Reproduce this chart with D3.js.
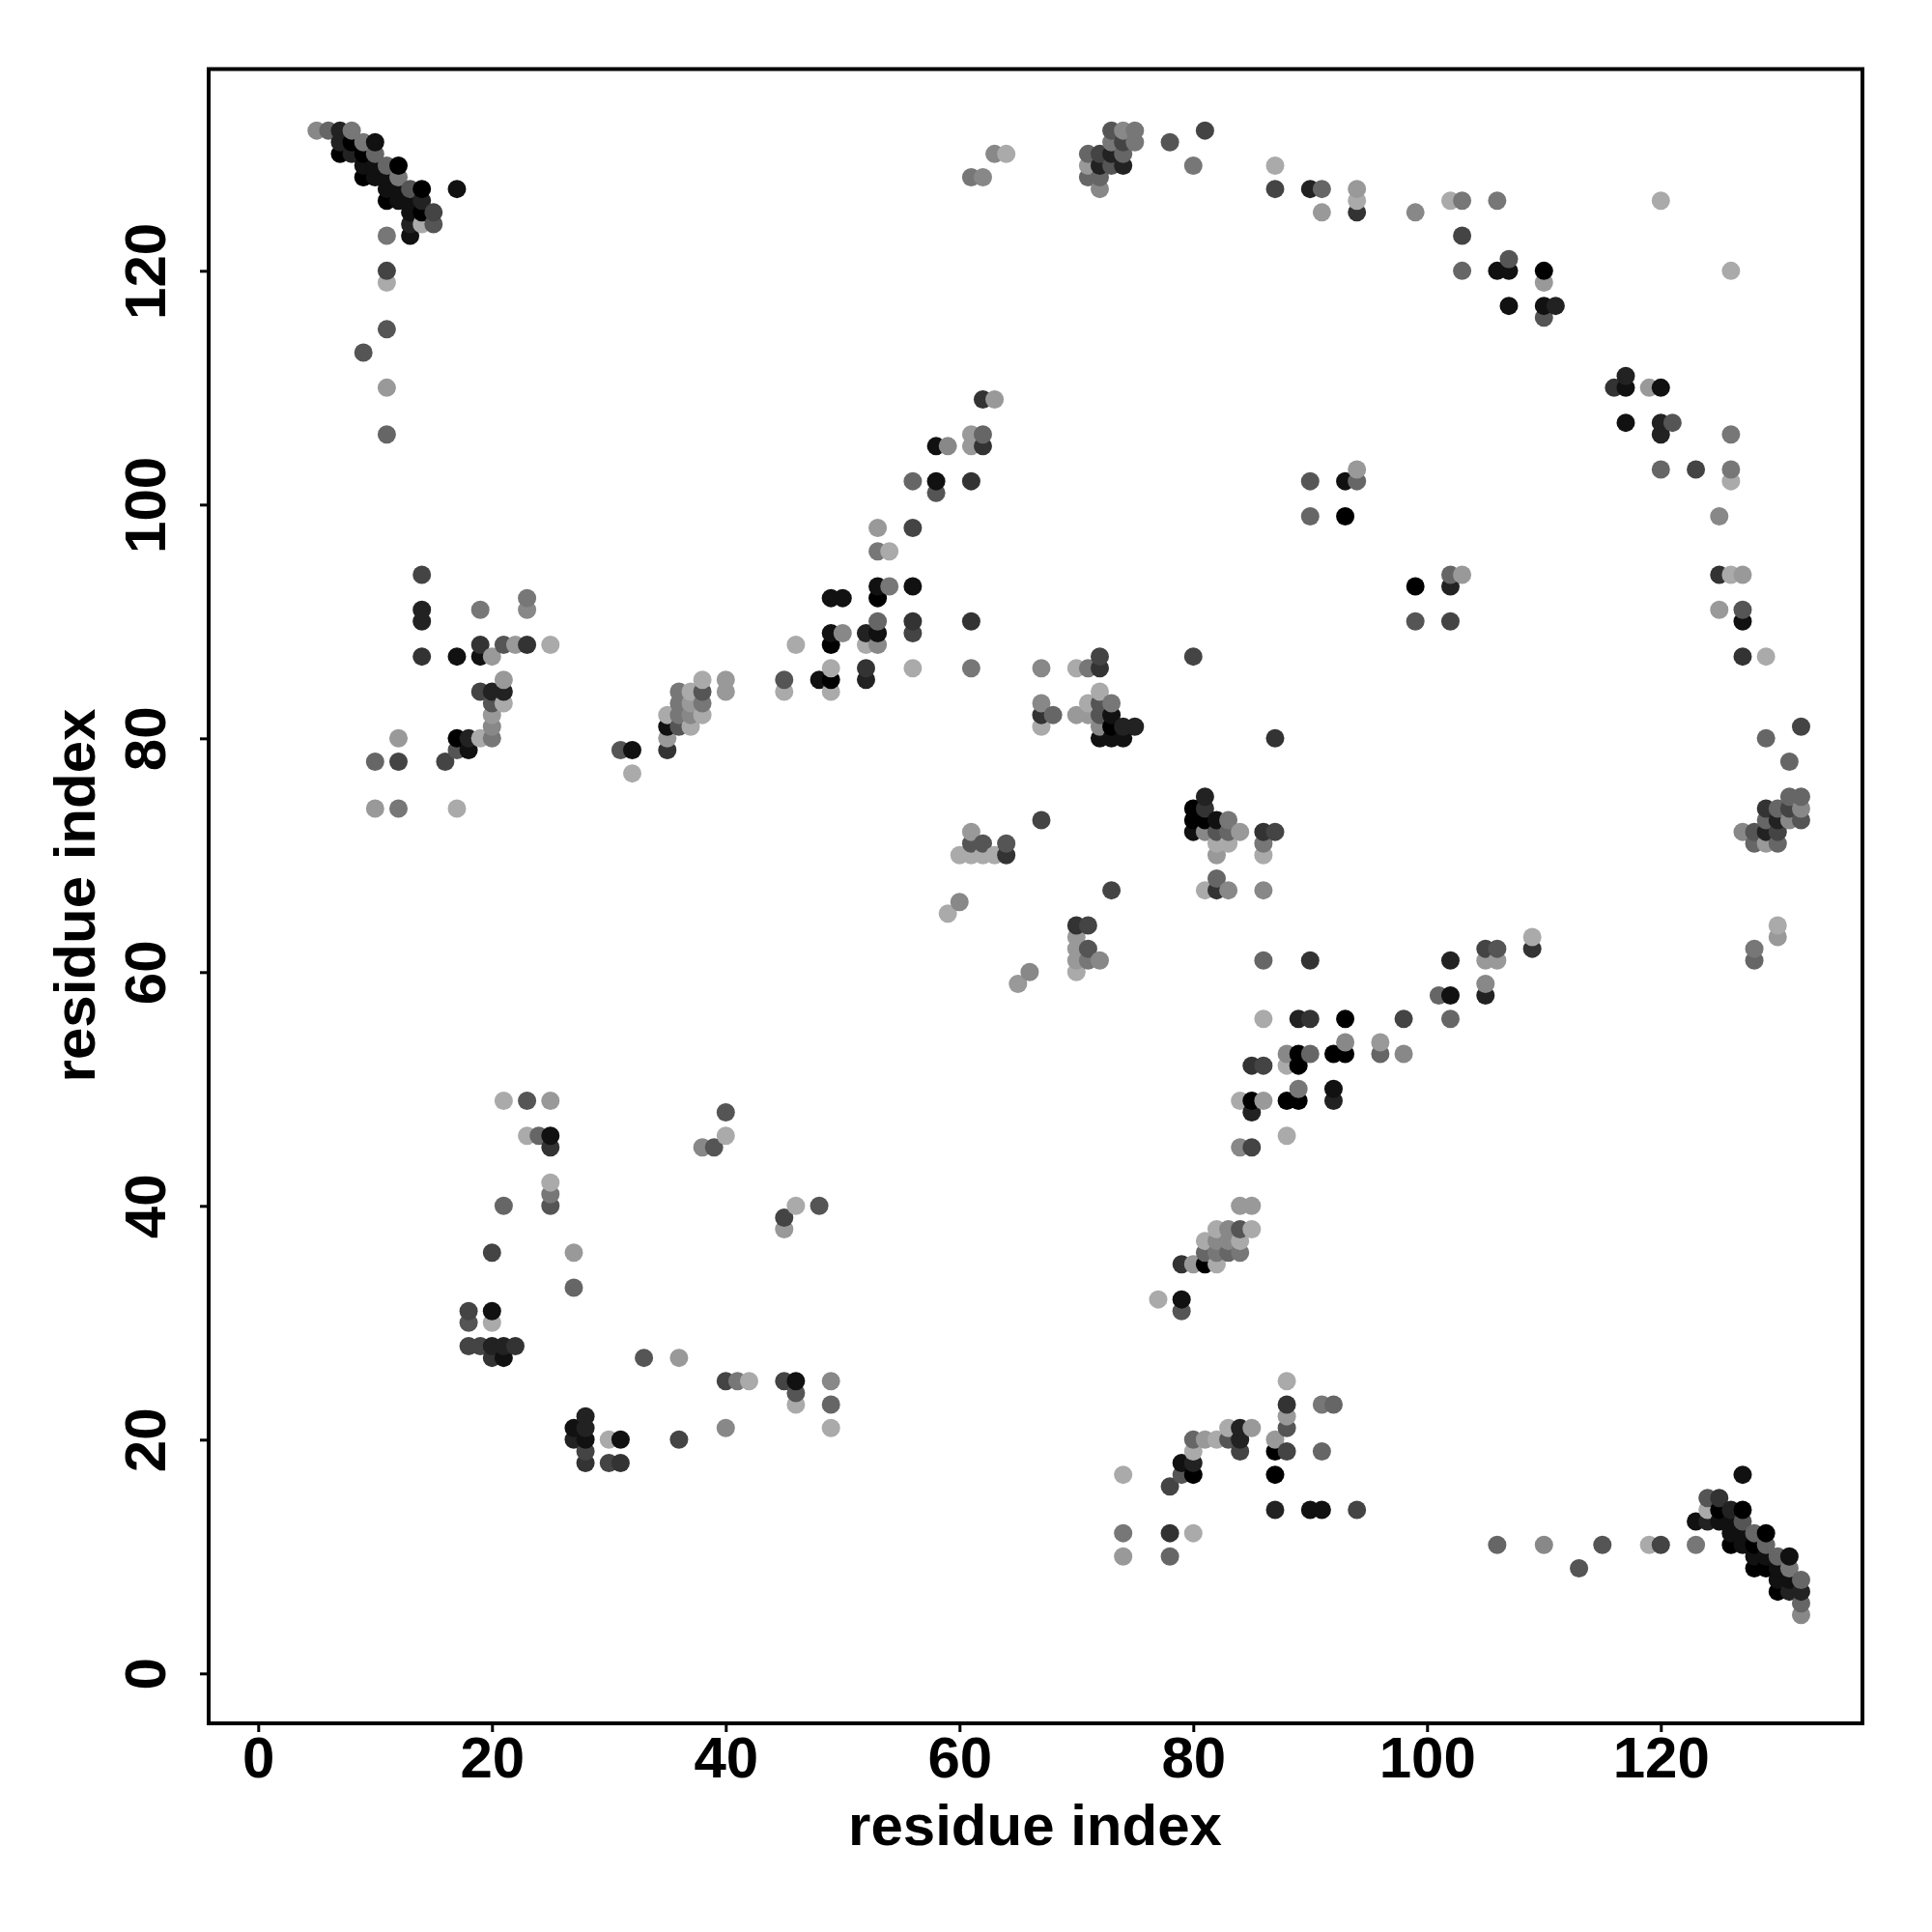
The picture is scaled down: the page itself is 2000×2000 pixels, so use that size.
<!DOCTYPE html>
<html>
<head>
<meta charset="utf-8">
<script src="https://cdn.jsdelivr.net/npm/d3@7"></script>
<style>
html,body{margin:0;padding:0;background:#fff}
svg{display:block}
text{font-family:"Liberation Sans",Arial,sans-serif;font-weight:bold;fill:#000}
</style>
</head>
<body>
<svg id="chart" width="2000" height="2000"></svg>
<script>
// Each contact: [residue x, residue y, score 0 (weak, light) .. 10 (strong, black)]
const tickValues = [0, 20, 40, 60, 80, 100, 120];
const axisLabel = "residue index";

const helixTopLeft = [
[5,132,2],[6,132,4],[7,132,8],[8,132,3],[7,131,8],[8,131,10],[9,131,3],[10,131,9],
[7,130,10],[8,130,8],[9,130,10],[10,130,4],[9,129,9],[10,129,9],[11,129,4],[12,129,10],
[9,128,10],[10,128,9],[11,128,9],[12,128,3],[11,127,9],[12,127,9],[13,127,5],[14,127,10],[17,127,9],
[11,126,10],[12,126,9],[13,126,9],[14,126,8],[13,125,9],[14,125,10],[15,125,6],
[13,124,8],[14,124,0],[15,124,5],[11,123,3],[13,123,9],[11,120,6],[11,119,0],
[11,115,5],[9,113,5],[11,110,1],[11,106,4]
];
const helixBottomRight = [
[127,17,9],[124,15,5],[125,15,7],[124,14,0],[125,14,10],[126,14,8],[127,14,10],
[123,13,9],[124,13,8],[125,13,9],[126,13,9],[127,13,5],[126,12,9],[127,12,9],[128,12,4],[129,12,10],
[126,11,10],[127,11,9],[128,11,10],[129,11,4],[128,10,9],[129,10,9],[130,10,4],[131,10,9],
[128,9,10],[129,9,10],[130,9,9],[131,9,3],[130,8,9],[131,8,9],[132,8,4],
[130,7,10],[131,7,8],[132,7,8],[132,6,4],[132,5,2],
[106,11,4],[110,11,2],[115,11,5],[119,11,0],[120,11,6],[123,11,3],[113,9,5]
];
const topArc = [
[61,128,3],[62,128,2],[63,130,2],[64,130,0],
[73,132,5],[74,132,2],[75,132,3],[73,131,3],[74,131,6],[75,131,3],[78,131,5],[81,132,6],[80,129,3],
[71,130,4],[72,130,6],[73,130,8],[74,130,4],[71,129,1],[72,129,8],[73,129,5],[74,129,8],
[71,128,4],[72,128,4],[72,127,2],
[87,129,0],[87,127,6],[90,127,8],[91,127,4],[91,125,1],[94,127,1],[94,126,0],[94,125,7],
[99,125,2],[102,126,0],[103,126,3],[103,123,6],[103,120,4],[106,126,3],
[106,120,9],[107,120,9],[107,121,5],[107,117,9],[110,120,10],[110,119,1],[110,117,9],[110,116,5],[111,117,8],
[120,126,0],[126,120,0]
];
const rightArc = [
[116,110,7],[117,111,8],[117,110,9],[117,107,9],[119,110,1],[120,110,9],[120,107,8],[120,106,8],[121,107,5],
[120,103,4],[123,103,6],[126,106,3],[126,103,3],[126,102,0],[125,99,2],[125,94,7],[126,94,0],[127,94,1],
[125,91,1],[127,91,5],[127,90,9],[127,87,7],[129,87,0],
[132,81,6],[129,80,4],[131,78,4],
[131,75,4],[132,75,4],[132,74,2],[131,74,6],[130,74,4],[129,74,7],
[129,73,4],[130,73,8],[131,73,2],[132,73,5],[127,72,2],[128,72,5],[129,72,8],[130,72,6],
[128,71,4],[129,71,1],[130,71,4],[130,64,0],[130,63,1],[128,62,3],[128,61,4]
];
const midLeft = [
[14,94,6],[14,91,8],[14,90,8],[14,87,7],[17,87,9],[19,91,3],[19,88,7],[19,87,9],[20,87,1],
[21,88,5],[22,88,1],[23,92,3],[23,91,2],[23,88,7],[25,88,0],
[21,85,1],[19,84,6],[20,84,8],[21,84,8],[20,83,5],[21,83,0],[20,82,1],[20,81,2],
[17,80,10],[18,80,8],[19,80,0],[20,80,3],[17,79,5],[18,79,9],[16,78,6],
[10,78,4],[12,80,1],[12,78,6],[10,74,1],[12,74,3],[17,74,0]
];
const strandRising = [
[31,79,5],[32,79,9],[32,77,0],[35,79,7],[35,80,1],[35,81,9],[35,82,0],
[36,81,5],[36,82,3],[36,83,3],[36,84,3],[37,81,0],[37,82,2],[37,83,1],[37,84,0],
[38,82,0],[38,83,3],[38,84,5],[38,85,0],[40,84,1],[40,85,1],[45,84,0],[45,85,5],
[48,85,9],[49,85,10],[49,84,0],[49,86,0],[49,88,10],[52,85,8],[52,86,7],[56,86,0],
[46,88,0],[52,88,0],[53,88,2],
[49,92,9],[50,92,9],[49,89,9],[50,89,2],[52,89,8],[53,89,9],[53,90,4],[53,93,9],[53,92,10],[54,93,3],
[56,93,9],[56,90,7],[56,89,6],[53,96,3],[54,96,0],[53,98,1],[56,98,6],[56,102,4],
[58,102,9],[58,101,5],[58,105,9],[59,105,2],[61,106,1],[62,106,4],[62,105,7],[61,105,1],[61,102,7],
[62,109,7],[63,109,1],[61,90,7],[61,86,3]
];
const centreUpper = [
[72,87,6],[72,86,7],[71,86,3],[70,86,0],[67,86,2],[67,83,2],[67,82,7],[68,82,4],[67,81,0],
[72,84,0],[71,83,0],[72,83,5],[73,83,3],[70,82,1],[71,82,1],[72,82,5],[73,82,9],
[72,81,2],[73,81,10],[74,81,8],[75,81,8],[72,80,9],[73,80,9],[74,80,9],
[80,87,6],[87,80,7],
[81,75,8],[80,74,10],[81,74,7],[80,73,10],[81,73,10],[82,73,9],[83,73,3],
[80,72,9],[81,72,2],[82,72,5],[83,72,4],[84,72,1],[82,71,0],[83,71,0],[82,70,1],
[86,72,7],[87,72,6],[86,71,3],[86,70,0],[82,68,4],[81,67,0],[82,67,7],[83,67,2],[86,67,2]
];
const centreScatter = [
[61,72,1],[61,71,5],[62,71,5],[60,70,0],[61,70,0],[62,70,0],[63,70,0],[64,71,5],[64,70,7],
[67,73,6],[59,65,0],[60,66,2],[65,59,1],[66,60,2],[73,67,6],
[70,64,7],[71,64,6],[70,63,1],[70,62,1],[71,62,5],[70,61,1],[71,61,3],[72,61,2],[70,60,0],
[86,61,4],[90,61,7],[86,56,0]
];
const strandLower = [
[89,56,8],[90,56,7],[93,56,10],[96,54,1],[96,53,4],[93,54,2],[92,53,10],[93,53,10],
[88,53,2],[89,53,10],[90,53,4],[88,52,0],[89,52,10],[85,52,7],[86,52,6],
[92,50,9],[89,50,3],[88,49,10],[89,49,10],[92,49,8],[84,49,0],[85,49,10],[86,49,1],[85,48,8],[88,46,0],
[84,45,2],[85,45,6],[98,56,6],[98,53,2],
[102,61,8],[101,58,4],[102,58,9],[102,56,4],[105,62,6],[106,62,5],[105,61,1],[106,61,1],[105,59,2],[105,58,8],
[109,63,0],[109,62,7],
[84,40,1],[85,40,1],[82,38,0],[83,38,2],[84,38,5],[85,38,0],[81,37,0],[82,37,2],[83,37,2],[84,37,0],
[81,36,4],[82,36,3],[83,36,4],[84,36,3],[79,35,7],[80,35,1],[81,35,10],[82,35,0],[77,32,0],[79,32,9],[79,31,5],
[90,102,5],[93,102,9],[94,103,1],[94,102,4],[90,99,4],[93,99,10],
[99,93,10],[99,90,5],[102,94,4],[102,93,8],[103,94,1],[102,90,6]
];
const bottomLeft = [
[18,31,6],[18,30,5],[18,28,6],[19,28,6],[20,31,9],[20,30,0],[20,28,8],[20,27,7],[21,28,8],[21,27,9],[22,28,7],
[20,36,6],[21,40,4],[27,36,1],[27,33,4],[25,42,0],[25,41,3],[25,40,5],[25,46,9],[25,45,7],[24,46,4],[23,46,0],
[23,49,5],[25,49,1],[21,49,0],[38,45,2],[39,45,5],[40,48,5],[40,46,0],[45,39,6],[45,38,1],[46,40,0],[48,40,5],
[33,27,5],[36,27,1],[40,25,6],[41,25,3],[42,25,0],[40,21,2],[36,20,6],
[45,25,6],[46,25,9],[46,24,5],[46,23,0],[49,25,2],[49,23,4],[49,21,0],
[27,21,9],[27,20,8],[28,22,8],[28,21,8],[28,20,9],[28,19,6],[28,18,7],[30,20,0],[30,18,6],[31,20,9],[31,18,7]
];
const bottomRight = [
[88,25,0],[88,23,7],[91,23,3],[92,23,4],[88,22,1],[88,21,5],[83,21,0],[84,21,8],[85,21,1],
[80,20,4],[81,20,1],[82,20,0],[83,20,5],[84,20,8],[87,20,1],[80,19,0],[84,19,6],[87,19,10],[88,19,6],[91,19,4],
[79,18,9],[80,18,8],[79,17,5],[80,17,10],[87,17,10],[78,16,6],
[87,14,8],[90,14,9],[91,14,9],[94,14,6],[74,17,0],[74,12,3],[74,10,1],[78,12,7],[78,10,4],[80,12,0]
];

const contacts = [].concat(helixTopLeft, helixBottomRight, topArc, rightArc, midLeft,
  strandRising, centreUpper, centreScatter, strandLower, bottomLeft, bottomRight)
  .sort((a, b) => d3.ascending(a[0], b[0]) || d3.ascending(a[1], b[1]));

const frame = {left: 216, right: 1928, top: 71.5, bottom: 1784};
const x = d3.scaleLinear().domain([-4.24, 137.25]).range([frame.left, frame.right]);
const y = d3.scaleLinear().domain([-4.27, 137.26]).range([frame.bottom, frame.top]);
const shade = d3.scaleLinear().domain([0, 10]).range([170, 0]);

const svg = d3.select("#chart");

svg.append("g").selectAll("circle").data(contacts).join("circle")
  .attr("cx", d => x(d[0]))
  .attr("cy", d => y(d[1]))
  .attr("r", 9.5)
  .attr("fill", d => { const g = Math.round(shade(d[2])); return `rgb(${g},${g},${g})`; });

svg.append("rect")
  .attr("x", frame.left).attr("y", frame.top)
  .attr("width", frame.right - frame.left).attr("height", frame.bottom - frame.top)
  .attr("fill", "none").attr("stroke", "#000").attr("stroke-width", 4);

const xAxis = svg.append("g").attr("transform", `translate(0,${frame.bottom})`)
  .call(d3.axisBottom(x).tickValues(tickValues).tickSize(9).tickPadding(7).tickFormat(d3.format("d")));
const yAxis = svg.append("g").attr("transform", `translate(${frame.left},0)`)
  .call(d3.axisLeft(y).tickValues(tickValues).tickSize(9).tickFormat(d3.format("d")));

[xAxis, yAxis].forEach(a => {
  a.select(".domain").remove();
  a.selectAll(".tick line").attr("stroke", "#000").attr("stroke-width", 3);
  a.selectAll("text").style("font-size", "60px").attr("fill", "#000");
});
xAxis.selectAll("text").attr("dy", null).attr("y", null)
  .attr("dominant-baseline", "auto").attr("transform", "translate(0,56)");
yAxis.selectAll("text").attr("x", null).attr("dy", null)
  .attr("text-anchor", "middle")
  .attr("transform", "translate(-45,0) rotate(-90)");

svg.append("text").attr("x", 1071.5).attr("y", 1910)
  .attr("text-anchor", "middle").style("font-size", "60px").text(axisLabel);
svg.append("text").attr("transform", "translate(98,927) rotate(-90)")
  .attr("text-anchor", "middle").style("font-size", "60px").text(axisLabel);
</script>
</body>
</html>
